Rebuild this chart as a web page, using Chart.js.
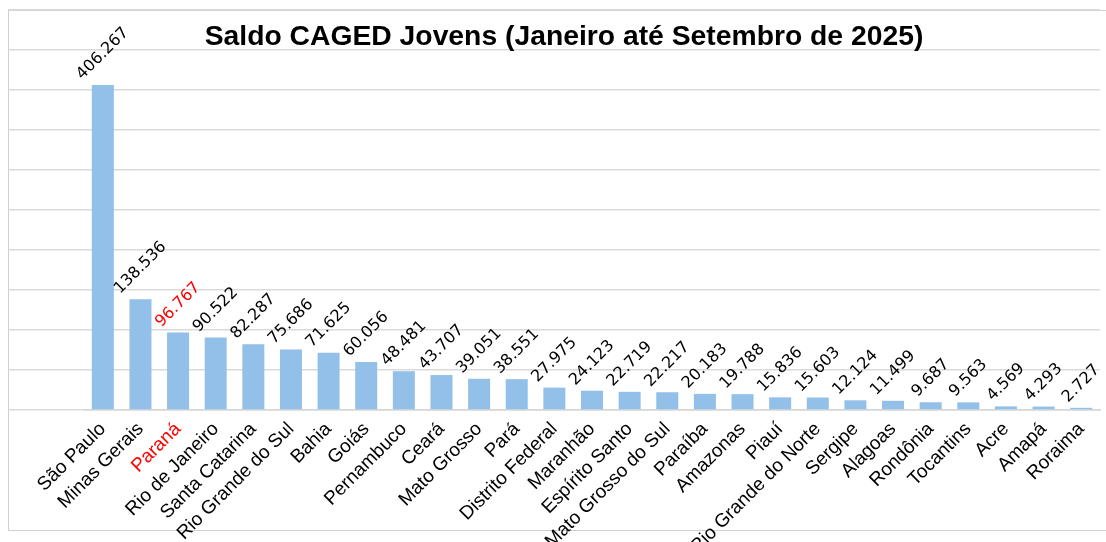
<!DOCTYPE html>
<html>
<head>
<meta charset="utf-8">
<script src="https://cdn.jsdelivr.net/npm/chart.js@4.4.1/dist/chart.umd.min.js"></script>
<style>
  html, body { margin: 0; padding: 0; background: #fff; overflow: hidden; }
  #moldura { position: absolute; left: 8px; top: 10px; width: 1110px; height: 521px; border: 1px solid #d0d0d0; box-sizing: border-box; }
  #caixa { position: absolute; left: 0; top: 0; width: 1106px; height: 542px; }
  #titulo { position: absolute; left: 0; top: 19px; width: 1128px; text-align: center;
            font: bold 28.3px "Liberation Sans", Arial, sans-serif; line-height: 32px; color: #000; }
</style>
</head>
<body>
<div id="moldura"></div>
<div id="caixa"><canvas id="myChart"></canvas></div>
<div id="titulo">Saldo CAGED Jovens (Janeiro até Setembro de 2025)</div>
<script>
// estados em ordem do saldo
const estados = ['São Paulo', 'Minas Gerais', 'Paraná', 'Rio de Janeiro', 'Santa Catarina', 'Rio Grande do Sul',
  'Bahia', 'Goiás', 'Pernambuco', 'Ceará', 'Mato Grosso', 'Pará', 'Distrito Federal', 'Maranhão',
  'Espírito Santo', 'Mato Grosso do Sul', 'Paraíba', 'Amazonas', 'Piauí', 'Rio Grande do Norte',
  'Sergipe', 'Alagoas', 'Rondônia', 'Tocantins', 'Acre', 'Amapá', 'Roraima']
const saldo = [406267, 138536, 96767, 90522, 82287, 75686, 71625, 60056, 48481, 43707, 39051, 38551,
  27975, 24123, 22719, 22217, 20183, 19788, 15836, 15603, 12124, 11499, 9687, 9563, 4569, 4293, 2727]
const destaque = 'Paraná'
const eixoMax = 500000
const passo = 50000

function formatar(n) {
  return String(n).replace(/\B(?=(\d{3})+(?!\d))/g, '.')
}

// rotulos inclinados em cima das barras
const rotulos = {
  id: 'rotulos',
  afterDatasetsDraw(chart) {
    const ctx = chart.ctx
    const meta = chart.getDatasetMeta(0)
    ctx.save()
    ctx.font = '16px "DejaVu Sans", sans-serif'
    ctx.textAlign = 'center'
    ctx.textBaseline = 'middle'
    meta.data.forEach((bar, i) => {
      const txt = formatar(saldo[i])
      const w = ctx.measureText(txt).width
      const d = 0.707 * (w + 14) / 2 + 3
      ctx.save()
      ctx.translate(bar.x, bar.y - d)
      ctx.rotate(-Math.PI / 4)
      ctx.fillStyle = estados[i] === destaque ? '#ff0000' : '#000'
      ctx.fillText(txt, 0, 0)
      ctx.restore()
    })
    ctx.restore()
  }
}

const ctx = document.getElementById('myChart')

new Chart(ctx, {
  type: 'bar',
  data: {
    labels: estados,
    datasets: [{
      label: 'Saldo',
      data: saldo,
      backgroundColor: '#92c0e8',
      barPercentage: 0.585,
      categoryPercentage: 1
    }]
  },
  options: {
    responsive: true,
    maintainAspectRatio: false,
    animation: false,
    layout: { padding: { left: 8, top: 10, right: 6, bottom: 0 } },
    plugins: {
      legend: { display: false },
      tooltip: { enabled: false }
    },
    scales: {
      x: {
        grid: { display: false },
        border: { display: true, color: '#d6d6d6', width: 1.5 },
        ticks: {
          autoSkip: false,
          maxRotation: 45,
          minRotation: 45,
          padding: 0,
          font: { family: '"Liberation Sans", Arial, sans-serif', size: 19 },
          color: c => estados[c.index] === destaque ? '#ff0000' : '#000'
        },
        afterFit: s => { s.height = 132 }
      },
      y: {
        min: 0,
        max: eixoMax,
        border: { display: false },
        grid: { color: '#dadada', lineWidth: 1.5, drawTicks: true, tickLength: 76 },
        ticks: { display: false, stepSize: passo },
        afterFit: s => { s.width = 76 }
      }
    }
  },
  plugins: [rotulos]
})
</script>
</body>
</html>
